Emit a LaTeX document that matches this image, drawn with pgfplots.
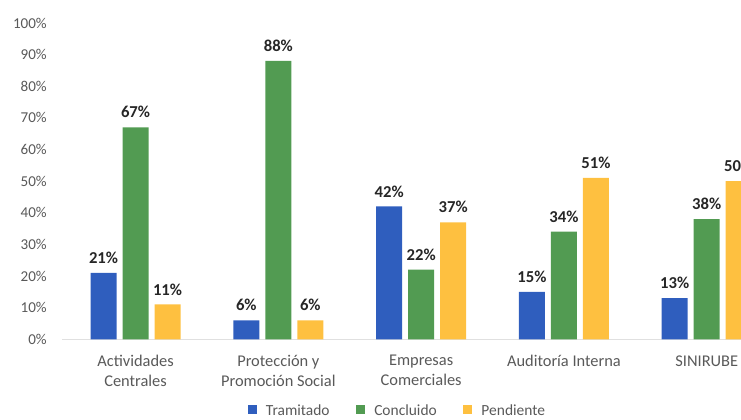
\documentclass[border=0pt]{standalone}
\usepackage{fontspec}
\setmainfont{Carlito}
\usepackage{pgfplots}
\pgfplotsset{compat=1.18}

\definecolor{cblue}{RGB}{47,94,190}
\definecolor{cgreen}{RGB}{82,155,82}
\definecolor{cyellow}{RGB}{254,192,64}
\definecolor{txtgray}{RGB}{89,89,89}
\definecolor{lblblack}{RGB}{38,38,38}

\pgfplotsset{
  sqlegend/.style={legend image code/.code={\fill[##1] (0pt,-1.6pt) rectangle (6.5pt,4.9pt);}}
}

\begin{document}
\begin{tikzpicture}
\begin{axis}[
  at={(41.25pt,59.8pt)}, anchor=south west,
  scale only axis, width=514.5pt, height=237.2pt,
  ybar, bar width=19.5pt,
  xmin=-0.564, xmax=4.24, ymin=0, ymax=100,
  xtick={0,1,2,3,4},
  xticklabels={{Actividades\\Centrales},{Protección y\\Promoción Social},{Empresas\\Comerciales},{Auditoría Interna},{SINIRUBE\vphantom{d}}},
  ytick={0,10,...,100},
  yticklabel={\pgfmathprintnumber{\tick}\%},
  /pgf/number format/assume math mode=true,
  major tick length=0pt,
  axis line style={draw=none},
  xticklabel style={align=center, anchor=north, inner sep=0pt, yshift=-11.4pt,
    font=\fontsize{12.3}{15}\selectfont, text=txtgray},
  yticklabel style={anchor=east, inner sep=0pt, xshift=-6pt,
    font=\fontsize{11.3}{13}\selectfont, text=txtgray},
  nodes near coords={\pgfmathprintnumber{\pgfplotspointmeta}\%},
  nodes near coords style={anchor=south, inner sep=0pt, yshift=6.75pt,
    font=\bfseries\fontsize{12.5}{14}\selectfont, text=lblblack},
  legend columns=-1,
  legend style={at={(0.4978,-0.228)}, anchor=center, draw=none, fill=none,
    inner sep=0pt, nodes={inner sep=0pt},
    font=\fontsize{11.6}{14}\selectfont, text=txtgray,
    /tikz/every odd column/.append style={column sep=7pt},
    /tikz/every even column/.append style={column sep=20pt}},
]
\draw[black!12, line width=0.8pt] (rel axis cs:0.01,0) -- (rel axis cs:1,0);

% Tramitado
\addplot[fill=cblue, draw=none, bar shift=-24pt, sqlegend]
  coordinates {(0,21) (1,6) (2,42) (3,15) (4,13)};
% Concluido
\addplot[fill=cgreen, draw=none, bar shift=0pt, sqlegend]
  coordinates {(0,67) (1,88) (2,22) (3,34) (4,38)};
% Pendiente
\addplot[fill=cyellow, draw=none, bar shift=24pt, sqlegend]
  coordinates {(0,11) (1,6) (2,37) (3,51) (4,50)};

\legend{Tramitado,Concluido,Pendiente}
\end{axis}
\pgfresetboundingbox
\useasboundingbox (0,0) rectangle (555.75pt,314.25pt);
\end{tikzpicture}
\end{document}
